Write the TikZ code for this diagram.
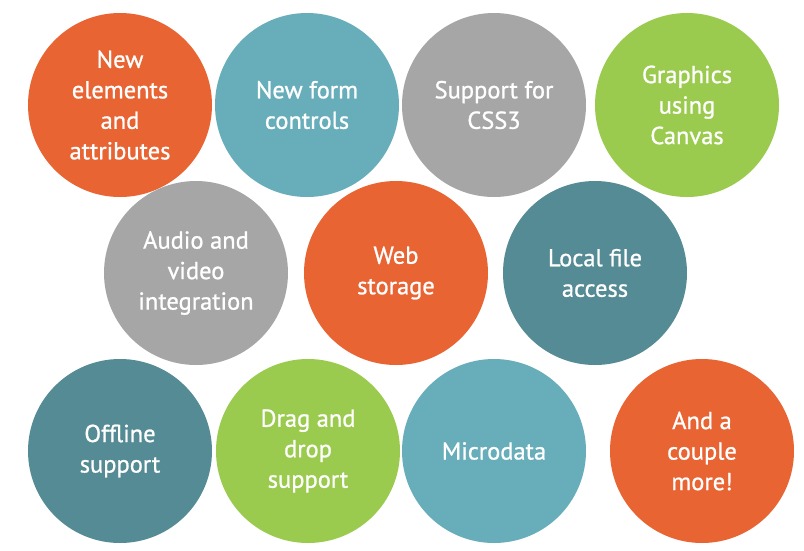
\documentclass[tikz,border=0pt]{standalone}
\usepackage{fontspec}
\setmainfont{PT Sans}[UprightFeatures={FakeBold=0.9}]
\definecolor{corange}{HTML}{E96433}
\definecolor{cteal}{HTML}{68AEBA}
\definecolor{cgray}{HTML}{A6A6A6}
\definecolor{cgreen}{HTML}{9ACB4E}
\definecolor{cdteal}{HTML}{558B94}
\tikzset{
  bubble/.style={circle, minimum size=184pt, inner sep=0pt, draw=none, fill=#1,
    text=white, align=center, font=\fontsize{24.5}{30.5}\selectfont}
}
\begin{document}
\begin{tikzpicture}[x=1pt,y=-1pt]
\useasboundingbox (0,0) rectangle (804,550);
\node[bubble=corange] (n1) at (120,105) {New\\elements\\and\\attributes};
\node[bubble=cteal] (n2) at (307,105) {New form\\controls};
\node[bubble=cgray] (n3) at (494,105) {Support for\\CSS3};
\node[bubble=cgreen] (n4) at (687,105) {Graphics\\using\\Canvas};
\node[bubble=cgray] (n5) at (196,273) {Audio and\\video\\integration};
\node[bubble=corange] (n6) at (396,273) {Web\\storage};
\node[bubble=cdteal] (n7) at (595,273) {Local file\\access};
\node[bubble=cdteal] (n8) at (120,451) {Offline\\support};
\node[bubble=cgreen] (n9) at (308,451) {Drag and\\drop\\support};
\node[bubble=cteal] (n10) at (494,451) {Microdata};
\node[bubble=corange] (n11) at (702,451) {And a\\couple\\more!};
\end{tikzpicture}
\end{document}
